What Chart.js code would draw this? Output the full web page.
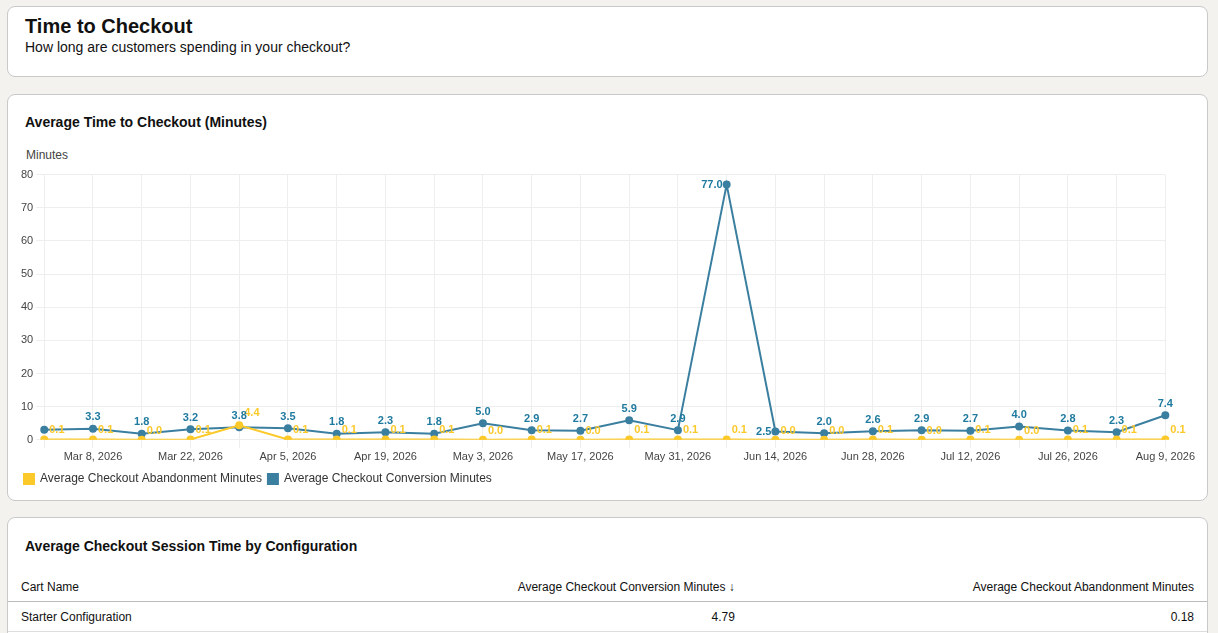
<!DOCTYPE html>
<html>
<head>
<meta charset="utf-8">
<script src="https://cdn.jsdelivr.net/npm/chart.js@4"></script>
<style>
  body { margin: 0; background: #f3f2ef; font-family: "Liberation Sans", Arial, sans-serif; color: #111; }
  .card { position: absolute; left: 7px; width: 1201px; background: #fff; border: 1px solid #c9c9c9; border-radius: 8px; box-sizing: border-box; }
  #head { top: 6px; height: 71px; }
  #head h1 { margin: 0; position: absolute; left: 17px; top: 8px; font-size: 20px; }
  #head p { margin: 0; position: absolute; left: 17px; top: 32px; font-size: 14px; }
  #chartCard { top: 94px; height: 407px; }
  #chartCard h2 { margin: 0; position: absolute; left: 17px; top: 19px; font-size: 14px; }
  #yTitle { position: absolute; left: 18px; top: 53px; font-size: 12px; color: #444; }
  #chartBox { position: absolute; left: 10px; top: 70px; width: 1180px; height: 330px; }
  #tableCard { top: 517px; height: 140px; }
  #tableCard h2 { margin: 0; position: absolute; left: 17px; top: 20px; font-size: 14px; }
  table { position: absolute; left: 0; top: 54px; width: 100%; border-collapse: collapse; font-size: 12px; }
  th { font-weight: normal; padding: 5px 13px; height: 19px; border-bottom: 1px solid #bbb; }
  td { padding: 5px 13px; height: 19px; border-bottom: 1px solid #ddd; }
</style>
</head>
<body>
<div class="card" id="head">
  <h1>Time to Checkout</h1>
  <p>How long are customers spending in your checkout?</p>
</div>
<div class="card" id="chartCard">
  <h2>Average Time to Checkout (Minutes)</h2>
  <div id="yTitle">Minutes</div>
  <div id="chartBox"><canvas id="chart"></canvas></div>
</div>
<div class="card" id="tableCard">
  <h2>Average Checkout Session Time by Configuration</h2>
  <table>
    <tr><th style="text-align:left">Cart Name</th><th style="text-align:right;width:460px">Average Checkout Conversion Minutes ↓</th><th style="text-align:right">Average Checkout Abandonment Minutes</th></tr>
    <tr><td>Starter Configuration</td><td style="text-align:right">4.79</td><td style="text-align:right">0.18</td></tr>
  </table>
</div>
<script>
// weekly buckets
const weeks = ['Mar 1, 2026', 'Mar 8, 2026', 'Mar 15, 2026', 'Mar 22, 2026', 'Mar 29, 2026', 'Apr 5, 2026',
  'Apr 12, 2026', 'Apr 19, 2026', 'Apr 26, 2026', 'May 3, 2026', 'May 10, 2026', 'May 17, 2026',
  'May 24, 2026', 'May 31, 2026', 'Jun 7, 2026', 'Jun 14, 2026', 'Jun 21, 2026', 'Jun 28, 2026',
  'Jul 5, 2026', 'Jul 12, 2026', 'Jul 19, 2026', 'Jul 26, 2026', 'Aug 2, 2026', 'Aug 9, 2026'];
const abandonment = [0.1, 0.1, 0.0, 0.1, 4.4, 0.1, 0.1, 0.1, 0.1, 0.0, 0.1, 0.0,
  0.1, 0.1, 0.1, 0.0, 0.0, 0.1, 0.0, 0.1, 0.0, 0.1, 0.1, 0.1];
const conversion = [3.0, 3.3, 1.8, 3.2, 3.8, 3.5, 1.8, 2.3, 1.8, 5.0, 2.9, 2.7,
  5.9, 2.9, 77.0, 2.5, 2.0, 2.6, 2.9, 2.7, 4.0, 2.8, 2.3, 7.4];
const yTicks = [0, 10, 20, 30, 40, 50, 60, 70, 80];

const YELLOW = '#fcc92b';
const BLUE = '#3b7fa0';

// 값 라벨 그리기 (datalabels 대신 간단한 플러그인)
const valueLabels = {
  id: 'valueLabels',
  afterDatasetsDraw(chart) {
    const ctx = chart.ctx;
    ctx.save();
    ctx.font = 'bold 11px "Liberation Sans", Arial, sans-serif';
    chart.data.datasets.forEach((ds, di) => {
      const meta = chart.getDatasetMeta(di);
      meta.data.forEach((pt, i) => {
        const txt = ds.data[i].toFixed(1);
        if (di === 0) {
          ctx.fillStyle = YELLOW;
          ctx.textAlign = 'left';
          ctx.textBaseline = 'middle';
          ctx.fillText(txt, pt.x + 5, ds.data[i] > 1 ? pt.y - 12 : pt.y - 9);
        } else {
          if (i === 0) return; // 첫 라벨은 겹쳐서 숨김
          ctx.fillStyle = '#1f7a9f';
          ctx.textBaseline = 'bottom';
          if (i === 14) { ctx.textAlign = 'right'; ctx.fillText(txt, pt.x - 4, pt.y + 6); return; }
          if (i === 15) { ctx.textAlign = 'right'; ctx.fillText(txt, pt.x - 4, pt.y + 6); return; }
          ctx.textAlign = 'center';
          ctx.fillText(txt, pt.x, pt.y - 6);
        }
      });
    });
    ctx.restore();
  }
};

new Chart(document.getElementById('chart'), {
  type: 'line',
  data: {
    labels: weeks,
    datasets: [
      { label: 'Average Checkout Abandonment Minutes', data: abandonment, borderColor: YELLOW, backgroundColor: YELLOW,
        borderWidth: 2, pointRadius: 3, pointBackgroundColor: YELLOW, tension: 0 },
      { label: 'Average Checkout Conversion Minutes', data: conversion, borderColor: BLUE, backgroundColor: BLUE,
        borderWidth: 2, pointRadius: 3, pointBackgroundColor: BLUE, tension: 0 }
    ]
  },
  options: {
    responsive: true,
    maintainAspectRatio: false,
    animation: false,
    layout: { padding: { top: 6, right: 12 } },
    plugins: {
      tooltip: { enabled: false },
      legend: {
        position: 'bottom', align: 'start',
        labels: { boxWidth: 10, boxHeight: 10, color: '#333', font: { size: 12 }, padding: 6 }
      }
    },
    scales: {
      x: {
        grid: { color: '#eeeeee' },
        border: { display: false },
        ticks: {
          color: '#444', font: { size: 11 }, maxRotation: 0, autoSkip: false,
          callback: (v, i) => (i % 2 === 1 ? weeks[i] : '')
        }
      },
      y: {
        min: 0, max: 80,
        afterBuildTicks: axis => { axis.ticks = yTicks.map(v => ({ value: v })); },
        grid: { color: '#eeeeee' },
        border: { display: false },
        ticks: { color: '#444', font: { size: 11 } }
      }
    }
  },
  plugins: [valueLabels]
});
</script>
</body>
</html>
